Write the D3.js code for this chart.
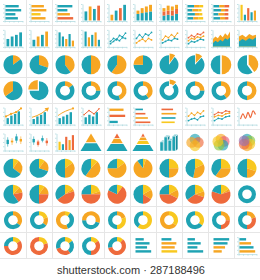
<!DOCTYPE html>
<html>
<head>
<meta charset="utf-8">
<script src="https://cdn.jsdelivr.net/npm/d3@7"></script>
<style>
  body { margin: 0; background: #fff; }
  svg { display: block; }
</style>
</head>
<body>
<div id="app"></div>
<script>
// ---- data: one array per icon family, values are 0..1 shares / heights ----
const hbarValues = [[0.8, 0.95, 0.6, 0.75], [0.75, 0.9, 0.55, 0.85], [0.9, 0.6, 0.75, 0.95],
  [0.5, 0.85, 0.7, 0.95], [0.6, 0.9, 0.8, 0.95], [0.45, 0.8, 0.6, 0.95], [0.95, 0.85, 0.7, 0.5], [0.4, 0.7, 0.85, 0.95]];
const hbarKeys = [['t', 't', 't', 't'], ['o', 'o', 'y', 'o'], ['t', 't', 'o', 'r'],
  ['t', 't', 't', 't'], ['t', 'o', 'o', 'y'], ['t', 't', 't', 't'], ['t', 't', 'o', 'o'], ['t', 'o', 't', 'o']];
const hbarAxis = [true, true, true, false, false, false, false, true];

const vbarValues = [[0.55, 0.85, 0.7, 0.9], [0.35, 0.6, 0.75, 0.95], [0.95, 0.35, 0.75, 0.5, 0.6],
  [0.45, 0.6, 0.7, 0.85], [0.4, 0.6, 0.7, 0.9], [0.85, 0.6, 0.45, 0.75, 0.35], [0.9, 0.55, 0.7, 0.85, 0.4],
  [0.5, 0.35, 0.8, 0.6, 0.9]];
const vbarKeys = [['t', 'o', 't', 'r'], ['o', 't', 'r', 't'], ['y', 't', 'r', 't', 'o'],
  ['t', 't', 't', 't'], ['t', 'o', 't', 'o'], ['t', 't', 'o', 't', 'o'], ['t', 'o', 't', 'o', 't'],
  ['y', 't', 'r', 'o', 'r']];

const vstackValues = [[[0.4, 0.2], [0.45, 0.3], [0.5, 0.35], [0.55, 0.4]],
  [[0.3, 0.25, 0.2], [0.35, 0.25, 0.3], [0.3, 0.3, 0.25], [0.4, 0.3, 0.25]]];
const vstackKeys = [['t', 'o'], ['t', 'r', 'o']];
const hstackValues = [[[0.4, 0.3, 0.25], [0.3, 0.35, 0.2], [0.45, 0.25, 0.2], [0.35, 0.3, 0.3]],
  [[0.35, 0.3, 0.3], [0.45, 0.25, 0.2], [0.3, 0.35, 0.25], [0.4, 0.3, 0.2]]];
const hstackKeys = [['t', 'o', 'y'], ['t', 'o', 'r']];

const lineValues = [
  [[0.3, 0.5, 0.4, 0.7, 0.6, 0.85], [0.15, 0.3, 0.45, 0.35, 0.55, 0.5]],
  [[0.5, 0.75, 0.55, 0.8, 0.7, 0.9], [0.2, 0.35, 0.45, 0.3, 0.5, 0.4]],
  [[0.4, 0.65, 0.55, 0.75, 0.6, 0.85], [0.2, 0.3, 0.4, 0.35, 0.5, 0.45]],
  [[0.55, 0.7, 0.6, 0.8, 0.75, 0.9], [0.35, 0.5, 0.45, 0.6, 0.55, 0.65], [0.15, 0.3, 0.25, 0.35, 0.45, 0.4]],
  [[0.5, 0.7, 0.55, 0.75, 0.65, 0.85], [0.2, 0.3, 0.35, 0.25, 0.45, 0.5]],
  [[0.6, 0.75, 0.7, 0.85, 0.8], [0.45, 0.55, 0.5, 0.65, 0.7], [0.2, 0.35, 0.3, 0.45, 0.5]],
  [[0.3, 0.65, 0.35, 0.75, 0.4, 0.85, 0.6]]];
const lineKeys = [['t', 't'], ['t', 'o'], ['o', 't'], ['r', 'o', 't'], ['o', 't'], ['r', 'o', 't'], ['r']];

const areaValues = [
  [[0.45, 0.6, 0.5, 0.7, 0.55, 0.8, 0.65, 0.9], [0.2, 0.35, 0.25, 0.4, 0.3, 0.5, 0.4, 0.55]],
  [[0.6, 0.7, 0.55, 0.75, 0.65, 0.7], [0.3, 0.45, 0.35, 0.5, 0.4, 0.55]]];

const pies2 = [[['o', 15], ['t', 85]], [['o', 30], ['t', 70]], [['o', 40], ['t', 60]], [['o', 50], ['t', 50]],
  [['o', 60], ['t', 40]], [['t', 75], ['o', 25]], [['o', 10], ['t', 90]], [['o', 12], ['t', 88]],
  [['o', 50], ['t', 50]], [['o', 40], ['t', 60]], [['t', 65], ['o', 35]], [['t', 75], ['o', 25]]];
const pies2Explode = [-1, -1, -1, -1, -1, -1, 0, 0, 9, 0, -1, 1];
const donuts2 = [[['o', 15], ['t', 85]], [['o', 25], ['t', 75]], [['o', 45], ['t', 55]], [['o', 40], ['t', 60]],
  [['o', 12], ['t', 88]], [['o', 25], ['t', 75]], [['o', 40], ['t', 60]], [['o', 50], ['t', 50]]];
const donuts2Explode = [-1, -1, -1, -1, 0, -1, -1, -1];
const pies3 = [[['y', 10], ['o', 25], ['t', 65]], [['y', 10], ['o', 20], ['t', 70]], [['y', 15], ['o', 35], ['t', 50]],
  [['y', 12], ['o', 48], ['t', 40]], [['y', 15], ['o', 60], ['t', 25]], [['y', 5], ['o', 85], ['t', 10]],
  [['y', 25], ['o', 25], ['t', 50]], [['y', 18], ['o', 35], ['t', 47]], [['y', 25], ['o', 35], ['t', 40]],
  [['y', 30], ['o', 20], ['t', 50]]];
const pies4 = [[['y', 12], ['o', 10], ['r', 18], ['t', 60]], [['y', 10], ['o', 15], ['r', 25], ['t', 50]],
  [['y', 15], ['o', 5], ['r', 45], ['t', 35]], [['y', 20], ['o', 5], ['r', 50], ['t', 25]],
  [['y', 10], ['r', 72], ['t', 18]], [['y', 17], ['o', 17], ['r', 16], ['t', 50]],
  [['y', 17], ['o', 15], ['r', 43], ['t', 25]], [['y', 20], ['o', 10], ['r', 35], ['t', 35]],
  [['y', 15], ['o', 5], ['r', 60], ['t', 20]]];
const donutsMix = [[['t', 100]],
  [['o', 35], ['t', 65]], [['y', 20], ['o', 15], ['t', 65]], [['y', 10], ['t', 35], ['o', 55]],
  [['o', 30], ['t', 45], ['o', 25]], [['o', 20], ['y', 30], ['t', 50]], [['y', 60], ['t', 40]],
  [['y', 35], ['o', 65]], [['y', 35], ['t', 65]], [['o', 25], ['r', 25], ['t', 50]], [['o', 20], ['r', 30], ['t', 50]],
  [['y', 15], ['r', 60], ['t', 25]], [['y', 20], ['r', 80]], [['y', 15], ['t', 25], ['r', 30], ['t', 30]],
  [['y', 15], ['r', 35], ['t', 50]], [['y', 12], ['r', 60], ['t', 28]]];

const comboBars = [[0.35, 0.5, 0.6, 0.75], [0.3, 0.45, 0.55, 0.7], [0.35, 0.45, 0.55, 0.7], [0.4, 0.55, 0.45, 0.7]];
const comboLine = [[0.45, 0.6, 0.7, 0.92], [0.4, 0.5, 0.65, 0.88], [0.5, 0.7, 0.82, 0.92], [0.55, 0.8, 0.6, 0.9]];
const comboStyle = ['dot', 'arrow', 'curve', 'zig'];

const thinValues = [[0.85, 0.95, 0.5], [0.45, 0.6, 0.75, 0.9], [0.7, 0.9, 0.85, 0.8]];
const thinKeys = [['o', 'r', 't'], ['t', 'r', 'o', 'r'], ['r', 'o', 't', 'y']];

// candles: [low, open, close, high]
const candles = [
  [[0.2, 0.35, 0.6, 0.75], [0.3, 0.45, 0.55, 0.7], [0.4, 0.55, 0.8, 0.95], [0.35, 0.5, 0.65, 0.8]],
  [[0.3, 0.45, 0.65, 0.8], [0.2, 0.3, 0.5, 0.6], [0.45, 0.55, 0.7, 0.85], [0.25, 0.4, 0.55, 0.7]]];
const candleKeys = [['t', 'o', 't', 'o'], ['t', 'r', 't', 'r']];

const pyramids = [[['t', 0.5], ['o', 0.5]], [['t', 0.45], ['o', 0.3], ['r', 0.25]],
  [['t', 0.4], ['y', 0.22], ['o', 0.2], ['r', 0.18]]];
const bars3d = [0.55, 0.85, 0.65, 0.9];
const vennSets = [['t', 'r', 'y', 'o'], ['o', 'p', 't', 'g', 'y'], ['t', 'g', 'y', 'o', 'r', 'v']];

const watermark = 'shutterstock.com · 287188496';

// which icon sits in each grid cell, row by row
const layout = [
  ['hbar', 0], ['hbar', 1], ['hbar', 2], ['vbar', 0], ['vbar', 1], ['vstack', 0], ['vstack', 1], ['hstack', 0], ['hstack', 1], ['vbar', 2],
  ['vbar', 3], ['vbar', 4], ['vbar', 5], ['vbar', 6], ['line', 0], ['line', 1], ['line', 2], ['line', 3], ['area', 0], ['area', 1],
  ['pie2', 0], ['pie2', 1], ['pie2', 2], ['pie2', 3], ['pie2', 4], ['pie2', 5], ['pie2', 6], ['pie2', 7], ['pie2', 8], ['pie2', 9],
  ['pie2', 10], ['pie2', 11], ['donut2', 0], ['donut2', 1], ['donut2', 2], ['donut2', 3], ['donut2', 4], ['donut2', 5], ['donut2', 6], ['donut2', 7],
  ['combo', 0], ['combo', 1], ['combo', 2], ['combo', 3], ['thin', 0], ['thin', 1], ['thin', 2], ['line', 4], ['line', 5], ['line', 6],
  ['candle', 0], ['candle', 1], ['vbar', 7], ['pyr', 0], ['pyr', 1], ['pyr', 2], ['bar3d', 0], ['venn', 0], ['venn', 1], ['venn', 2],
  ['pie3', 0], ['pie3', 1], ['pie3', 2], ['pie3', 3], ['pie3', 4], ['pie3', 5], ['pie3', 6], ['pie3', 7], ['pie3', 8], ['pie3', 9],
  ['pie4', 0], ['pie4', 1], ['pie4', 2], ['pie4', 3], ['pie4', 4], ['pie4', 5], ['pie4', 6], ['pie4', 7], ['pie4', 8], ['mix', 0],
  ['mix', 1], ['mix', 2], ['mix', 3], ['mix', 4], ['mix', 5], ['mix', 6], ['mix', 7], ['mix', 8], ['mix', 9], ['mix', 10],
  ['mix', 11], ['mix', 12], ['mix', 13], ['mix', 14], ['mix', 15], ['hbar', 3], ['hbar', 4], ['hbar', 5], ['hbar', 6], ['hbar', 7]
];

// ---- styles ----
const COLORS = { t: '#1fa3b3', o: '#f6a623', r: '#ee6a3c', y: '#f8c81f', g: '#8cc63f', p: '#e85a78', v: '#9a70b0' };
const AXIS = '#b3dbe0';
const GRID = '#e6e6e6';

const W = 260, H = 280, GRID_H = 259;
const svg = d3.select('#app').append('svg').attr('width', W).attr('height', H);
svg.append('rect').attr('width', W).attr('height', H).attr('fill', '#fff');

const colX = d3.scaleBand().domain(d3.range(10)).range([0, W]);
const rowY = d3.scaleBand().domain(d3.range(10)).range([0, GRID_H]);
const CX = colX.bandwidth() / 2, CY = rowY.bandwidth() / 2;

// grid lines
const grid = svg.append('g').attr('stroke', GRID).attr('stroke-width', 1);
d3.range(1, 10).forEach(i => grid.append('line')
  .attr('x1', Math.round(colX(i)) + 0.5).attr('x2', Math.round(colX(i)) + 0.5).attr('y1', 0).attr('y2', GRID_H));
d3.range(1, 11).forEach(j => grid.append('line')
  .attr('x1', 0).attr('x2', W).attr('y1', Math.round(j === 10 ? GRID_H : rowY(j)) - 0.5).attr('y2', Math.round(j === 10 ? GRID_H : rowY(j)) - 0.5));

function drawAxes(g) {
  const ax = d3.scaleLinear().domain([0, 4]).range([4.5, 22.5]);
  const ay = d3.scaleLinear().domain([0, 4]).range([21, 4]);
  g.append('g').attr('transform', 'translate(0,21)')
    .call(d3.axisBottom(ax).ticks(4).tickSize(1.5).tickSizeOuter(0).tickFormat(''));
  g.append('g').attr('transform', 'translate(4.5,0)')
    .call(d3.axisLeft(ay).ticks(4).tickSize(1.5).tickSizeOuter(0).tickFormat(''));
  g.selectAll('.domain, .tick line').attr('stroke', AXIS).attr('stroke-width', 0.8);
}

function drawHBar(g, values, keys, axis, thick) {
  if (axis) drawAxes(g);
  const y = d3.scaleBand().domain(d3.range(values.length)).range([5, 19.5]).paddingInner(thick ? 0.4 : 0.62);
  const x = d3.scaleLinear().domain([0, 1]).range([5.5, 22]);
  g.selectAll('rect.b').data(values).join('rect').attr('class', 'b')
    .attr('x', x(0)).attr('y', (d, i) => y(i))
    .attr('width', d => x(d) - x(0)).attr('height', y.bandwidth())
    .attr('fill', (d, i) => COLORS[keys[i]]);
}

function drawVBar(g, values, keys) {
  drawAxes(g);
  const x = d3.scaleBand().domain(d3.range(values.length)).range([6.5, 22]).paddingInner(0.35);
  const y = d3.scaleLinear().domain([0, 1]).range([20.5, 4]);
  g.selectAll('rect.b').data(values).join('rect').attr('class', 'b')
    .attr('x', (d, i) => x(i)).attr('y', d => y(d))
    .attr('width', x.bandwidth()).attr('height', d => y(0) - y(d))
    .attr('fill', (d, i) => COLORS[keys[i]]);
}

function drawVStack(g, bars, keys) {
  drawAxes(g);
  const series = d3.stack().keys(d3.range(keys.length))(bars);
  const x = d3.scaleBand().domain(d3.range(bars.length)).range([6.5, 22]).paddingInner(0.3);
  const y = d3.scaleLinear().domain([0, 1]).range([20.5, 4]);
  g.selectAll('g.s').data(series).join('g').attr('class', 's')
    .attr('fill', s => COLORS[keys[s.key]])
    .selectAll('rect').data(s => s).join('rect')
    .attr('x', (d, i) => x(i)).attr('y', d => y(d[1]))
    .attr('width', x.bandwidth()).attr('height', d => y(d[0]) - y(d[1]));
}

function drawHStack(g, bars, keys) {
  drawAxes(g);
  const series = d3.stack().keys(d3.range(keys.length))(bars);
  const y = d3.scaleBand().domain(d3.range(bars.length)).range([5, 19.5]).paddingInner(0.4);
  const x = d3.scaleLinear().domain([0, 1]).range([5.5, 22]);
  g.selectAll('g.s').data(series).join('g').attr('class', 's')
    .attr('fill', s => COLORS[keys[s.key]])
    .selectAll('rect').data(s => s).join('rect')
    .attr('y', (d, i) => y(i)).attr('x', d => x(d[0]))
    .attr('height', y.bandwidth()).attr('width', d => x(d[1]) - x(d[0]));
}

function drawLines(g, seriesList, keys, dots) {
  drawAxes(g);
  const n = seriesList[0].length;
  const x = d3.scalePoint().domain(d3.range(n)).range([6.5, 21.5]);
  const y = d3.scaleLinear().domain([0, 1]).range([20, 5]);
  const line = d3.line().x((d, i) => x(i)).y(d => y(d));
  if (!dots) line.curve(d3.curveCatmullRom);
  seriesList.forEach((vals, k) => {
    g.append('path').attr('d', line(vals)).attr('fill', 'none')
      .attr('stroke', COLORS[keys[k]]).attr('stroke-width', dots ? 0.9 : 1.2);
    if (dots) g.selectAll(null).data(vals).join('circle')
      .attr('cx', (d, i) => x(i)).attr('cy', d => y(d)).attr('r', 0.9).attr('fill', COLORS[keys[k]]);
  });
}

function drawArea(g, pair) {
  drawAxes(g);
  const x = d3.scaleLinear().domain([0, pair[0].length - 1]).range([5, 22]);
  const y = d3.scaleLinear().domain([0, 1]).range([20.5, 4]);
  const area = d3.area().x((d, i) => x(i)).y0(y(0)).y1(d => y(d));
  g.append('path').attr('d', area(pair[0])).attr('fill', COLORS.o);
  g.append('path').attr('d', area(pair[1])).attr('fill', COLORS.t);
}

function drawPie(g, slices, rOuter, rInner, explode) {
  const arcs = d3.pie().sort(null).value(d => d[1])(slices);
  const arc = d3.arc().innerRadius(rInner).outerRadius(rOuter);
  const gp = g.append('g').attr('transform', `translate(${CX},${CY})`);
  gp.selectAll('path').data(arcs).join('path')
    .attr('d', arc).attr('fill', d => COLORS[d.data[0]])
    .attr('transform', (d, i) => {
      if (explode !== i && explode !== 9) return null;
      const a = (d.startAngle + d.endAngle) / 2, off = explode === 9 ? 0.8 : 1.8;
      return `translate(${Math.sin(a) * off},${-Math.cos(a) * off})`;
    });
}

function drawCombo(g, bars, pts, style) {
  drawAxes(g);
  const x = d3.scaleBand().domain(d3.range(bars.length)).range([6.5, 20]).paddingInner(0.35);
  const y = d3.scaleLinear().domain([0, 1]).range([20.5, 3.5]);
  g.selectAll('rect.b').data(bars).join('rect').attr('class', 'b')
    .attr('x', (d, i) => x(i)).attr('y', d => y(d))
    .attr('width', x.bandwidth()).attr('height', d => y(0) - y(d)).attr('fill', COLORS.t);
  const px = d3.scalePoint().domain(d3.range(pts.length)).range([6, 21]);
  const color = style === 'zig' ? COLORS.r : COLORS.o;
  const line = d3.line().x((d, i) => px(i)).y(d => y(d));
  if (style === 'curve') line.curve(d3.curveBasis);
  g.append('path').attr('d', line(pts)).attr('fill', 'none').attr('stroke', color).attr('stroke-width', 1);
  if (style === 'arrow') {
    const n = pts.length - 1;
    const ang = Math.atan2(y(pts[n]) - y(pts[n - 1]), px(n) - px(n - 1)) * 180 / Math.PI + 90;
    g.append('path').attr('d', d3.symbol().type(d3.symbolTriangle).size(9)())
      .attr('transform', `translate(${px(n)},${y(pts[n])}) rotate(${ang})`).attr('fill', color);
  } else {
    const shown = style === 'curve' ? [pts.length - 1] : d3.range(pts.length);
    g.selectAll(null).data(shown).join('circle')
      .attr('cx', i => px(i)).attr('cy', i => y(pts[i])).attr('r', style === 'zig' ? 0.8 : 1.1).attr('fill', color);
  }
}

function drawCandles(g, data, keys) {
  drawAxes(g);
  const x = d3.scaleBand().domain(d3.range(data.length)).range([6.5, 22]).paddingInner(0.45);
  const y = d3.scaleLinear().domain([0, 1]).range([20.5, 3.5]);
  const c = g.selectAll('g.c').data(data).join('g').attr('class', 'c')
    .attr('fill', (d, i) => COLORS[keys[i]]).attr('stroke', (d, i) => COLORS[keys[i]]);
  c.append('line').attr('x1', (d, i) => x(i) + x.bandwidth() / 2).attr('x2', (d, i) => x(i) + x.bandwidth() / 2)
    .attr('y1', d => y(d[0])).attr('y2', d => y(d[3])).attr('stroke-width', 0.6);
  c.append('rect').attr('stroke', 'none').attr('x', (d, i) => x(i)).attr('width', x.bandwidth())
    .attr('y', d => y(d[2])).attr('height', d => y(d[1]) - y(d[2]));
}

function drawPyramid(g, bands) {
  const y = d3.scaleLinear().domain([0, 1]).range([21.5, 4]);
  const hw = d3.scaleLinear().domain([0, 1]).range([10.5, 0]);
  let acc = 0;
  bands.forEach(([k, v], i) => {
    const f0 = acc, f1 = i === bands.length - 1 ? 1 : acc + v - 0.05;
    acc += v;
    const pts = [[CX - hw(f0), y(f0)], [CX + hw(f0), y(f0)], [CX + hw(f1), y(f1)], [CX - hw(f1), y(f1)]];
    g.append('path').attr('d', d3.line()(pts) + 'Z').attr('fill', COLORS[k]);
  });
}

function drawBars3d(g, values) {
  const x = d3.scaleBand().domain(d3.range(values.length)).range([4, 19.5]).paddingInner(0.2);
  const y = d3.scaleLinear().domain([0, 1]).range([21.5, 5]);
  const dx = 2.4, dy = -1.8, bw = x.bandwidth(), base = y(0);
  values.forEach((v, i) => {
    const x0 = x(i), top = y(v);
    const bar = g.append('g').attr('stroke', '#fff').attr('stroke-width', 0.5).attr('stroke-linejoin', 'round');
    bar.append('path').attr('d', d3.line()([[x0 + bw, top], [x0 + bw + dx, top + dy], [x0 + bw + dx, base + dy], [x0 + bw, base]]) + 'Z')
      .attr('fill', '#17899a');
    bar.append('path').attr('d', d3.line()([[x0, top], [x0 + dx, top + dy], [x0 + bw + dx, top + dy], [x0 + bw, top]]) + 'Z')
      .attr('fill', '#6fc5cf');
    bar.append('rect').attr('x', x0).attr('y', top).attr('width', bw).attr('height', base - top).attr('fill', COLORS.t);
  });
}

function drawVenn(g, keys) {
  const ang = d3.scaleLinear().domain([0, keys.length]).range([0, 2 * Math.PI]);
  g.selectAll('circle').data(keys).join('circle')
    .attr('cx', (k, i) => CX + 3.3 * Math.sin(ang(i)))
    .attr('cy', (k, i) => CY - 3.3 * Math.cos(ang(i)))
    .attr('r', 5.4).attr('fill', k => COLORS[k]).attr('fill-opacity', 0.65);
}

// ---- draw every cell ----
layout.forEach(([type, idx], n) => {
  const g = svg.append('g').attr('transform', `translate(${colX(n % 10)},${rowY(Math.floor(n / 10))})`);
  switch (type) {
    case 'hbar': drawHBar(g, hbarValues[idx], hbarKeys[idx], hbarAxis[idx], true); break;
    case 'thin': drawHBar(g, thinValues[idx], thinKeys[idx], idx < 2, false); break;
    case 'vbar': drawVBar(g, vbarValues[idx], vbarKeys[idx]); break;
    case 'vstack': drawVStack(g, vstackValues[idx], vstackKeys[idx]); break;
    case 'hstack': drawHStack(g, hstackValues[idx], hstackKeys[idx]); break;
    case 'line': drawLines(g, lineValues[idx], lineKeys[idx], idx !== 6); break;
    case 'area': drawArea(g, areaValues[idx]); break;
    case 'pie2': drawPie(g, pies2[idx], 9.5, 0, pies2Explode[idx]); break;
    case 'donut2': drawPie(g, donuts2[idx], 9.5, 5, donuts2Explode[idx]); break;
    case 'pie3': drawPie(g, pies3[idx], 9.5, 0, -1); break;
    case 'pie4': drawPie(g, pies4[idx], 9.5, 0, -1); break;
    case 'mix': drawPie(g, donutsMix[idx], 9, 4.8, -1); break;
    case 'combo': drawCombo(g, comboBars[idx], comboLine[idx], comboStyle[idx]); break;
    case 'candle': drawCandles(g, candles[idx], candleKeys[idx]); break;
    case 'pyr': drawPyramid(g, pyramids[idx]); break;
    case 'bar3d': drawBars3d(g, bars3d); break;
    case 'venn': drawVenn(g, vennSets[idx]); break;
  }
});

svg.append('text').attr('x', 131).attr('y', 274).attr('text-anchor', 'middle')
  .attr('font-family', 'Liberation Sans, Arial, sans-serif').attr('font-size', 11).attr('fill', '#333')
  .text(watermark);
</script>
</body>
</html>
